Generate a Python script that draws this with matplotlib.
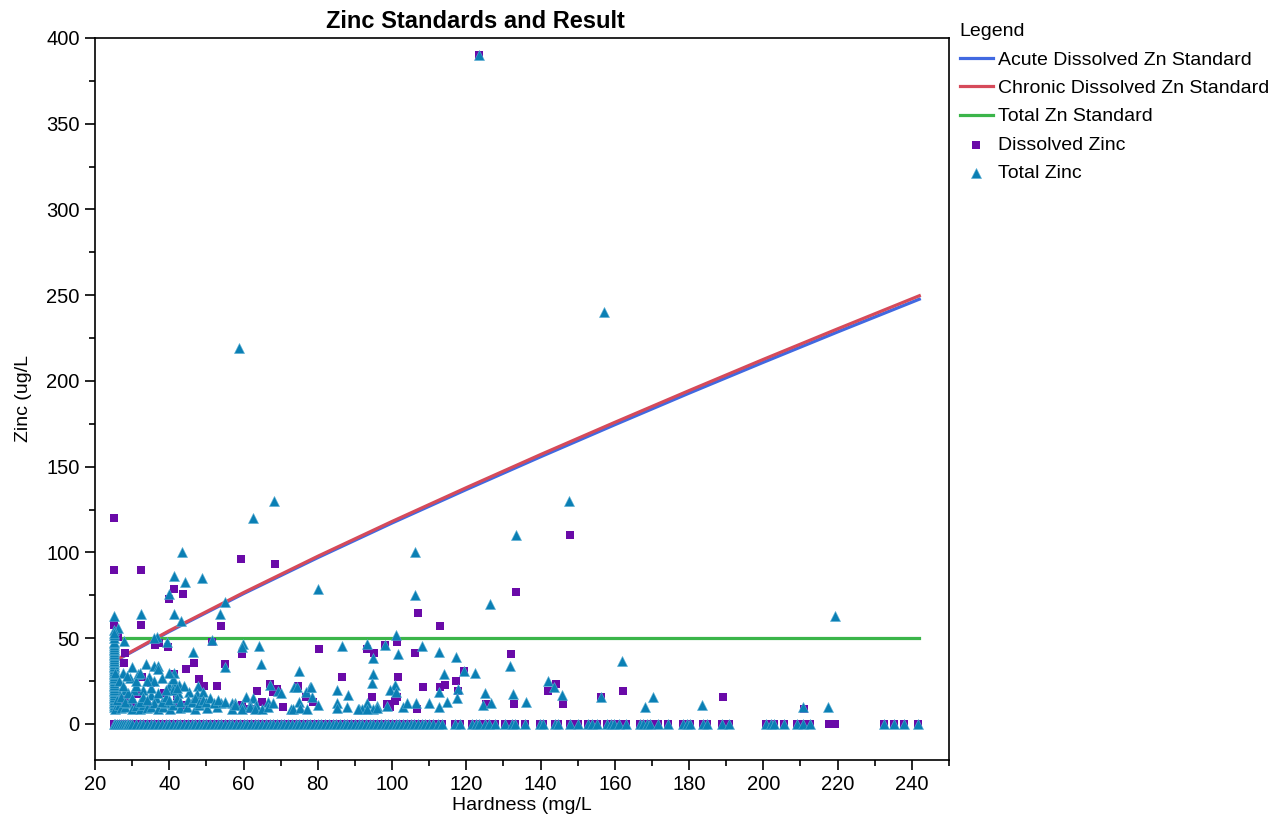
import numpy as np
import matplotlib.pyplot as plt
from matplotlib.ticker import MultipleLocator

plt.rcParams['font.family'] = ['Liberation Sans', 'DejaVu Sans']

# --- Standards ---
std_hardness = [25, 40, 60, 80, 100, 120, 140, 160, 180, 200, 220, 242]
acute_std = [36.2, 53.9, 76.0, 97.0, 117.2, 136.7, 155.8, 174.5, 192.9, 210.9, 228.6, 247.7]
chronic_std = [36.5, 54.4, 76.6, 97.8, 118.1, 137.8, 157.1, 175.9, 194.4, 212.6, 230.4, 249.7]
total_std_hardness = [25, 242]
total_std = [50, 50]

# --- Samples reported as 0 ug/L ---
zero_hardness = [25, 25.5, 26, 26.5, 27, 27.5, 28, 28.5, 29, 29.5, 30, 31, 32, 33, 34, 35, 36, 37,
                 38, 39, 40, 41, 42, 43, 44, 45, 46, 47, 48, 49, 50, 51, 52, 53, 54, 55, 56, 57, 58,
                 59, 60, 61, 62, 63, 64, 65, 66, 67, 68, 69, 70, 71, 72, 73, 74, 75, 76, 77, 78, 79,
                 80, 81, 82, 83, 84, 85, 86, 87, 88, 89, 90, 91, 92, 93, 94, 95, 96, 97, 98, 99, 100,
                 101, 102, 103, 104, 105, 106, 107, 108, 109, 110, 111, 112.5, 113.5, 117, 118.3,
                 121.5, 122.5, 123.5, 125, 126, 127.7, 130.4, 132.3, 133.1, 135.8, 139.8, 140.7,
                 143.9, 144.7, 147.9, 150.1, 152.8, 153.9, 155.2, 157.9, 159, 159.8, 161.1, 163,
                 166.8, 167.6, 168.7, 169.5, 171.6, 174.3, 178.4, 179.5, 180.2, 183.7, 184.8, 188.8,
                 190.7, 200.7, 202.1, 202.9, 205.6, 209.1, 210.7, 212.6, 232.5, 235.2, 237.9, 241.7]
dissolved_only_zero_hardness = [217.7, 219.3]

# --- Dissolved zinc detections ---
dissolved_h = [123.4, 25, 147.9, 59.2, 68.6, 25, 32.3, 41.4, 43.8, 40, 25, 32.5, 54, 113, 106.9,
               133.4, 132.1, 26.3, 36.2, 37.2, 39.7, 51.5, 28.2, 59.7, 46.7, 27.7, 55.1, 44.6, 25.5,
               32.6, 41.2, 48.1, 35, 49.4, 52.9, 26, 31.2, 38.6, 42.2, 63.7, 67.1, 68, 69.1, 74.8,
               65.1, 70.7, 59.5, 61.7, 42.4, 44.5, 49, 30, 34, 28, 101.4, 93.3, 98.1, 80.4, 95.2,
               106.3, 86.6, 101.7, 119.4, 108.4, 113, 114.3, 117.3, 117.8, 94.7, 101.3, 100.9, 98.7,
               99.4, 106.8, 125.4, 76.9, 78.8, 144.1, 142.1, 146.1, 132.9, 162.3, 156.2, 189.2, 211]
dissolved_zn = [390, 120, 110, 96, 93, 90, 90, 78.5, 75.8, 73, 57.7, 57.7, 57, 57, 65,
                77, 40.6, 51, 46, 47, 45, 48, 41.2, 40.6, 35.4, 35.4, 35, 32, 27.6,
                27.6, 29, 26, 23.7, 22.2, 22.2, 18, 17.5, 18.3, 16.3, 19, 23.3, 18.7, 20.4, 22,
                12.7, 9.7, 11, 8.7, 12.4, 11, 12, 12, 11, 14, 48, 43.6, 46, 44, 41.2,
                41.2, 27.2, 27.2, 31, 21.7, 21.7, 23, 24.8, 19.2, 15.5, 15.5, 13.3, 11.7,
                9.7, 8.6, 11.5, 15.5, 13, 23.5, 19, 11.5, 11.5, 19, 16, 16, 8.6]

# --- Total zinc detections ---
total_h = [123.4, 157.1, 58.8, 68.2, 147.7, 62.6, 133.4, 43.5, 106.2, 41.3, 44.3, 48.7, 80.1, 39.9,
           55, 25, 32.4, 41.3, 53.7, 43.1, 219.2, 126.5, 106.2, 26.1, 25, 51.4, 36.6, 35.9, 59.9,
           59.5, 64.3, 39.3, 27.9, 46.5, 33.7, 36, 37, 55, 64.8, 74.9, 27.5, 31.6, 41.2, 29.5,
           34.5, 47.8, 67.2, 69.3, 70, 73.5, 74.3, 77.9, 60.8, 62.6, 66.5, 72.8, 75, 56.8, 57.7,
           59.5, 61.7, 63.4, 42.4, 45.3, 47.5, 49.1, 35, 36.5, 37, 28, 30.5, 33, 26, 40, 41.5,
           42.5, 41, 101.1, 86.5, 93.2, 98, 95, 101.6, 108.2, 112.7, 117.1, 95, 114, 119.4,
           122.4, 94.5, 100.7, 85.2, 99.4, 101.1, 117.8, 112.7, 125, 88.2, 117.6, 114.9, 110,
           106.5, 112.7, 85.2, 93.2, 91.1, 91.8, 96, 95, 98.7, 124.6, 126.6, 76.8, 78.1, 78.4,
           131.8, 161.9, 142, 143.7, 145.9, 132.6, 136.1, 156.2, 170.4, 168.1, 183.6, 210.8, 217.4,
           # column at hardness 25
           25, 25, 25, 25, 25, 25, 25, 25, 25, 25, 25, 25, 25, 25, 25, 25, 25, 25, 25, 25, 25,
           25, 25, 25, 25, 25, 25, 25, 25, 25, 25, 25, 25, 25, 25, 25, 25, 25, 25, 25, 25, 25,
           # low cluster
           25.5, 26.5, 27, 28, 29, 30, 31, 32, 33, 34, 35, 36, 37, 38.4, 39, 40.2, 41, 42.9, 44.8,
           46.9, 48, 50.2, 52.9, 54, 56.9, 57.7, 59.6, 61.7, 63, 64.9, 66.5, 68, 73.3, 75.2, 77.1,
           80, 85.2, 88, 90.8, 93.3, 95.9, 103, 104,
           26, 27, 28, 29, 30, 31, 32, 33, 34, 35, 36, 38, 39, 40, 41, 42, 43, 44, 45, 46, 47,
           48, 49, 50, 51, 52, 53, 55, 25.5, 26.5, 27.5, 28.5, 30, 31, 32, 34, 38, 40, 42, 37, 39]
total_zn = [390, 240, 219, 130, 130, 120, 110, 100, 100, 86, 83, 85, 79, 76,
            71, 63, 64, 64, 64, 60, 63, 70, 75, 56, 55, 49, 51, 50, 46.5,
            44.7, 45.5, 48, 48.4, 41.7, 35, 34, 34, 33, 35, 31, 30, 29, 29.5, 27,
            27.5, 22.4, 23, 19, 18, 21.5, 21.5, 21.4, 16, 15, 13, 9, 12.8, 12, 12,
            11, 11, 11, 18.3, 18.8, 17.7, 18.8, 17, 15, 18, 20, 20, 20, 20, 22, 24,
            23, 20, 52, 45.5, 46.5, 46, 38.7, 40.8, 45.5, 41.8, 38.9, 29.2, 29.2, 31,
            30, 23.7, 22.7, 19.8, 19.8, 18.8, 20.5, 18.8, 18, 17, 15, 13, 12,
            12.5, 10, 12, 12, 9, 9, 10.5, 9, 10.5, 11, 12, 18.8, 21.4, 15.5,
            34, 37, 25, 21.4, 16.7, 17.7, 12.8, 16, 15.7, 10, 11, 10, 10,
            10, 11, 12, 13, 14, 15, 16, 17, 18, 19, 20, 21, 22, 23, 24, 25, 26, 27, 28, 29, 30,
            31, 32, 33, 34, 35, 36, 37, 38, 39, 40, 41, 42, 43, 44, 45, 46, 47, 48, 50, 52, 53,
            9, 11, 9.5, 10, 12, 9, 10.5, 9, 11, 9.5, 10, 12, 9, 10, 12, 9, 11, 9.5, 10,
            9, 11, 9.5, 10, 12, 9, 11, 9, 10, 9, 9, 10, 12, 9, 9.5, 9,
            11, 9.5, 10, 9, 9, 9.5, 10, 12.5,
            14, 16, 13, 18, 15, 22, 13, 16, 14, 21, 25, 13, 16, 14, 26, 15, 13, 22, 14, 13, 15,
            12, 14, 13, 15, 12, 14, 13, 30, 25, 22, 28, 33, 25, 30, 25, 27, 30, 21, 32, 20]

# --- Build full series ---
d_h = np.concatenate([zero_hardness, dissolved_only_zero_hardness, dissolved_h])
d_zn = np.concatenate([np.zeros(len(zero_hardness) + len(dissolved_only_zero_hardness)), dissolved_zn])
t_h = np.concatenate([zero_hardness, total_h])
t_zn = np.concatenate([np.zeros(len(zero_hardness)), total_zn])

fig = plt.figure(figsize=(12.74, 8.17), dpi=100)
ax = fig.add_axes([95 / 1274, 1 - 760 / 817, 854 / 1274, 722 / 817])

ax.plot(std_hardness, acute_std, color='#4169e1', lw=2.3, label='Acute Dissolved Zn Standard', zorder=2)
ax.plot(std_hardness, chronic_std, color='#d64a5a', lw=2.3, label='Chronic Dissolved Zn Standard', zorder=2.1)
ax.plot(total_std_hardness, total_std, color='#3bb54a', lw=2.3, label='Total Zn Standard', zorder=2.2)
ax.scatter(d_h, d_zn, marker='s', s=28, color='#6a0aa8', linewidths=0, label='Dissolved Zinc', zorder=3)
ax.scatter(t_h, t_zn, marker='^', s=52, color='#0a7fb4', edgecolors='#5aaed4', linewidths=0.4,
           label='Total Zinc', zorder=4)

ax.set_xlim(20, 250)
ax.set_ylim(-21, 400)
ax.xaxis.set_major_locator(MultipleLocator(20))
ax.xaxis.set_minor_locator(MultipleLocator(10))
ax.yaxis.set_major_locator(MultipleLocator(50))
ax.yaxis.set_minor_locator(MultipleLocator(25))
ax.tick_params(which='both', direction='out', top=False, right=False, labelsize=14.5, colors='black')
ax.tick_params(which='major', length=7, width=1.2, pad=4)
ax.tick_params(which='minor', length=4, width=1.2)
for sp in ax.spines.values():
    sp.set_linewidth(1.2)

fig.text(475 / 1274, 1 - 22 / 817, 'Zinc Standards and Result', fontsize=17, fontweight='bold',
         ha='center', va='center')
ax.set_xlabel('Hardness (mg/L', fontsize=14, labelpad=2)
ax.set_ylabel('Zinc (ug/L', fontsize=14, labelpad=10)

leg = fig.legend(loc='upper left', bbox_to_anchor=(942 / 1274, 1 - 6 / 817), frameon=False,
                 title='Legend', fontsize=14, title_fontsize=14, handlelength=1.7,
                 labelspacing=0.55, handletextpad=0.3)
leg._legend_box.align = 'left'

fig.savefig('out.png', dpi=100)
